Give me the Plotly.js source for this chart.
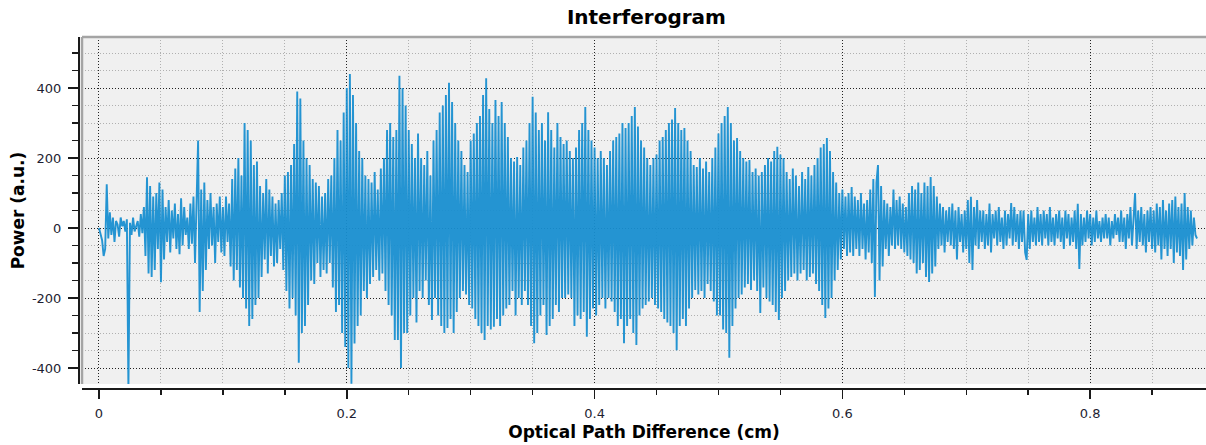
<!DOCTYPE html>
<html><head><meta charset="utf-8">
<script src="https://cdn.plot.ly/plotly-3.0.1.min.js"></script>
<style>html,body{margin:0;padding:0;background:#fff}</style>
</head><body><div id="chart" style="width:1206px;height:445px"></div>
<script>
// Power (a.u.) sampled every 0.00125 cm, split into 0.1 cm segments
const power_000_010 = [0,-20,-35,-80,-60,125,-30,45,-20,30,-40,20,10,-25,30,5,20,-10,25,-460,
 15,-20,30,-10,5,20,-25,40,-15,60,-80,145,-130,120,-140,90,-120,100,-60,130,-155,110,-90,
 60,-40,80,-70,50,-30,70,-60,40,-75,85,-50,60,-20,30,-60,70,-45,90,-100,120,
 250,-240,110,-180,130,-120,80,-60,100,-50,60,-100,70,-40,90,-70];
const power_010_020 = [60,-80,90,-40,70,-110,140,-150,170,-120,200,-170,150,-200,
 300,-230,280,-280,250,-260,180,-220,190,-200,120,-140,100,-90,140,-130,110,
 -80,90,-110,70,-100,80,-60,100,-120,150,-180,160,-230,180,-200,240,
 -250,390,-385,370,-300,250,-280,200,-220,180,-150,140,-160,130,-100,120,-140,90,-120,
 100,-130,140,-100,150,-170,200,-240,280,-220,250,-300,330,-340];
const power_020_030 = [400,-400,440,-445,380,-330,300,-280,220,-250,200,
 -180,150,-200,140,-160,130,-140,160,-120,110,-150,170,-130,200,-180,280,
 -220,300,-250,260,-320,280,-320,435,-400,400,-300,350,-300,280,-250,240,-200,200,
 -270,270,-180,200,-200,180,-150,220,-220,150,-263,250,-200,280,
 -250,330,-280,350,-300,380,-286,415,-260,360,-300,300,-240,250,-200,220,-180,180,-190,160,-220];
const power_030_040 = [250,-230,270,-260,300,-280,320,-300,380,-320,428,
 -280,340,-290,300,-282,366,-260,320,-280,360,-250,300,-230,260,-220,200,-180,190,
 -250,203,-200,180,-220,230,-180,250,-220,300,-280,375,-329,330,
 -300,280,-250,300,-220,250,-306,331,-280,280,-260,230,-220,300,-240,260,-200,240,
 -200,250,-190,220,-200,200,-280,230,-250,280,-260,300,-240,346,-311,280,-260,250,-230];
const power_040_050 = [230,-250,200,-220,220,-200,200,-230,180,-200,220,-210,
 250,-240,260,-280,270,-260,300,-329,286,-280,300,-260,320,-300,346,-334,290,-250,250,
 -230,230,-220,200,-210,180,-200,200,-220,210,-230,250,-240,
 260,-260,280,-270,300,-280,310,-300,343,-349,300,-280,280,-260,286,-280,250,-230,220,
 -200,180,-177,174,-190,200,-180,170,-200,190,-160,160,-180,200,-210,230,-250];
const power_050_060 = [270,-250,300,-290,320,-300,346,-371,300,-280,250,-230,
 257,-200,220,-190,200,-170,190,-160,194,-177,160,-150,170,
 -180,150,-243,160,-170,180,-200,200,-210,190,-220,220,-240,232,
 -263,210,-200,200,-180,160,-150,140,-140,170,-130,150,-150,120,
 -130,160,-120,140,-150,174,-140,150,-130,180,-160,200,-180,230,
 -220,240,-257,257,-230,220,-200,160,-150,130,-120,100,-90];
const power_060_070 = [110,-60,90,-80,100,-70,117,-80,90,-60,80,-80,100,-60,70,-90,
 80,-70,110,-100,140,-197,130,180,-150,120,-110,80,-60,70,-80,60,-50,110,-60,80,
 -50,90,-60,70,-70,60,-80,100,-90,120,-100,110,-130,130,-120,100,-100,130,-140,120,
 -154,146,-130,120,-110,90,-60,70,-50,60,-70,50,-40,60,
 -50,70,-60,50,-90,60,-40,40,-70,50];
const power_070_080 = [-60,80,-100,89,-120,60,-50,80,-60,50,-40,50,-60,40,-50,70,-70,40,-30,50,
 -50,60,-40,30,-60,50,-50,40,-30,71,-50,60,-40,40,-60,50,-40,50,-70,-91,
 40,-60,50,-40,30,-50,60,-40,40,-50,50,-30,40,-50,60,-40,30,-50,40,-30,
 50,-40,30,-60,50,-30,40,-50,30,-40,50,-60,69,-117,40,-50,30,-40,50,-30];
const power_080_089 = [40,-50,30,-40,50,-30,20,-40,30,-30,40,-30,30,-50,20,-30,40,-20,30,-40,
 50,-40,30,-60,40,-30,60,-50,40,100,-60,50,-40,60,-50,40,-70,50,-40,60,
 -60,50,-70,70,-50,60,-90,80,-60,50,-80,70,-60,80,-100,90,-70,60,-80,70,
 -120,100,-90,60,-60,50,-50,30,-20,-30];

const power = [].concat(power_000_010, power_010_020, power_020_030, power_030_040,
  power_040_050, power_050_060, power_060_070, power_070_080, power_080_089);

const xStart = 0;        // cm
const xStep = 0.00125;   // cm per sample
const xTickVals = [0, 0.2, 0.4, 0.6, 0.8];
const xTickText = ['0', '0.2', '0.4', '0.6', '0.8'];
const yTickVals = [-400, -200, 0, 200, 400];
const yTickText = ['-400', '-200', '0', '200', '400'];

const trace = {
  type: 'scatter', mode: 'lines',
  x0: xStart, dx: xStep, y: power,
  line: {color: 'rgb(24,142,208)', width: 1.9},
  opacity: 0.95,
  hoverinfo: 'skip'
};

const axisCommon = {
  showline: true, linecolor: '#1a1a1a', linewidth: 2,
  ticks: 'outside', tickcolor: '#1a1a1a', tickwidth: 1.5,
  tickmode: 'array',
  showgrid: true, gridcolor: '#222', griddash: '1px,2px', gridwidth: 1,
  zeroline: false, fixedrange: true,
  tickfont: {family: 'DejaVu Sans, Verdana, sans-serif', size: 13, color: '#1e1e32'}
};

const layout = {
  width: 1206, height: 445,
  margin: {l: 79, r: 0, t: 37, b: 56, pad: 0},
  paper_bgcolor: '#ffffff', plot_bgcolor: '#f0f0f0',
  showlegend: false,
  font: {family: 'DejaVu Sans, Verdana, sans-serif', size: 13, color: '#000'},
  title: {text: '<b>Interferogram</b>', font: {size: 20, color: '#000'},
          xref: 'container', x: 0.536, xanchor: 'center',
          yref: 'container', y: 0.962, yanchor: 'middle'},
  xaxis: Object.assign({}, axisCommon, {
    domain: [0.00266, 1], range: [-0.01372, 0.8935],
    anchor: 'free', position: 0,
    tickvals: xTickVals, ticktext: xTickText, ticklen: 9,
    ticklabelstandoff: 3,
    minor: {tickmode: 'linear', tick0: 0, dtick: 0.05, ticks: 'outside', ticklen: 5,
            tickcolor: '#1a1a1a', tickwidth: 1.5, showgrid: true,
            gridcolor: '#b0b0b0', griddash: '1px,2px', gridwidth: 1},
    title: {text: '<b>Optical Path Difference (cm)</b>', font: {size: 17, color: '#000'}, standoff: 6}
  }),
  yaxis: Object.assign({}, axisCommon, {
    domain: [0.0142, 1], range: [-445.7, 545.7],
    anchor: 'free', position: 0,
    tickvals: yTickVals, ticktext: yTickText, ticklen: 10,
    ticklabelstandoff: 4,
    minor: {tickmode: 'linear', tick0: 0, dtick: 50, ticks: 'outside', ticklen: 6,
            tickcolor: '#1a1a1a', tickwidth: 1.5, showgrid: true,
            gridcolor: '#b0b0b0', griddash: '1px,2px', gridwidth: 1},
    title: {text: '<b>Power (a.u.)</b>', font: {size: 17, color: '#000'}, standoff: 2}
  }),
  shapes: [
    {type: 'line', xref: 'x domain', yref: 'y domain', x0: 0, x1: 1, y0: 1, y1: 1,
     line: {color: '#a4a4a4', width: 2.5}, layer: 'above'},
    {type: 'line', xref: 'x domain', yref: 'y domain', x0: 0, x1: 0, y0: 0, y1: 1,
     line: {color: '#a4a4a4', width: 2.5}, layer: 'above'}
  ]
};

Plotly.newPlot('chart', [trace], layout, {displayModeBar: false, staticPlot: true});
</script>
</body></html>
